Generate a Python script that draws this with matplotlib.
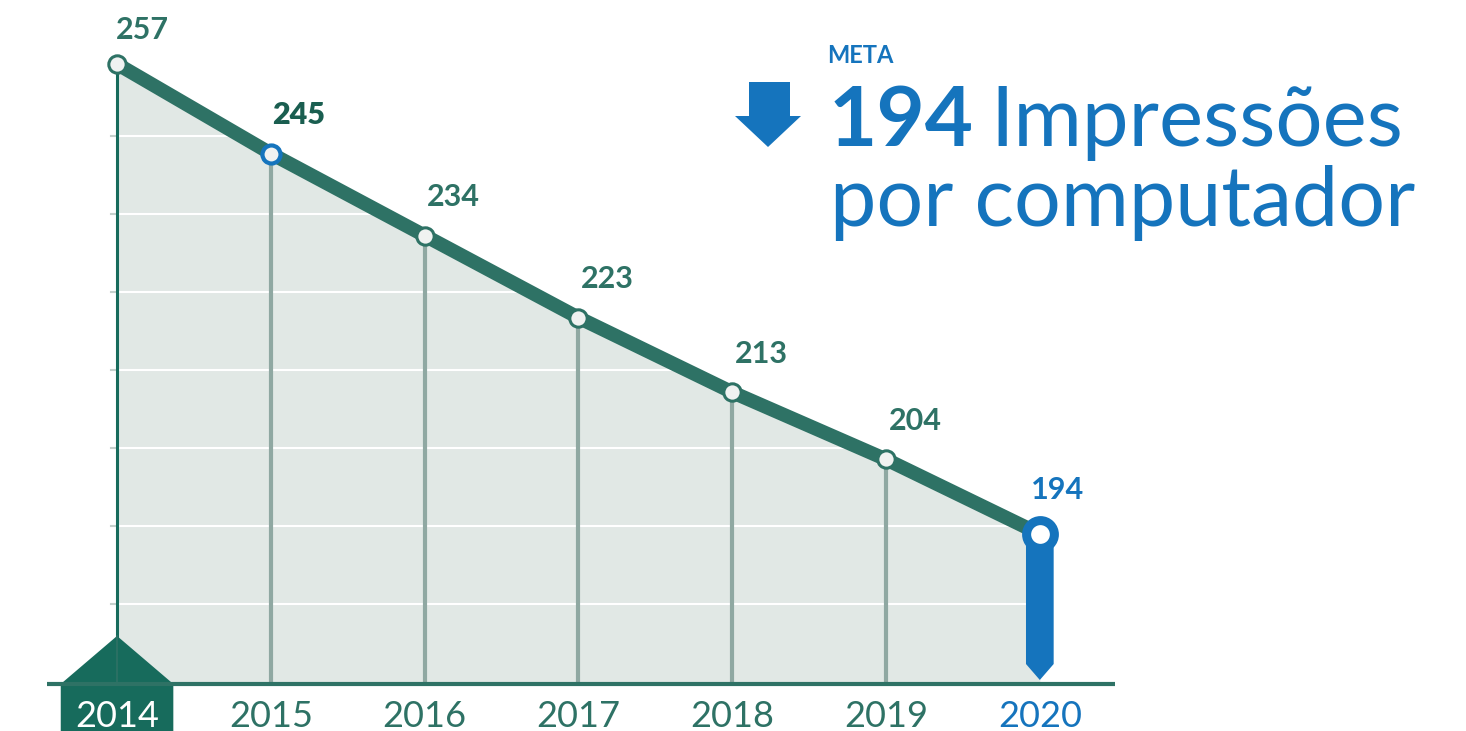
import numpy as np
import matplotlib.pyplot as plt
from matplotlib.patches import Polygon

years = [2014, 2015, 2016, 2017, 2018, 2019, 2020]
values = [257, 245, 234, 223, 213, 204, 194]
year_labels = ['2014', '2015', '2016', '2017', '2018', '2019', '2020']

TEAL = '#2e7265'
DARK_TEAL = '#176b5c'
BLUE = '#1574bd'
FILL = '#e1e8e5'
VGRAY = '#8fa8a2'

plt.rcParams['font.family'] = ['Lato', 'DejaVu Sans']

W, H = 1466, 731
fig = plt.figure(figsize=(W / 100, H / 100), dpi=100)
ax = fig.add_axes([0, 0, 1, 1])
ax.set_xlim(2013.239, 2022.771)
ax.set_ylim(167.59, 265.58)
ax.axis('off')

base = 173.89

# shaded area under the line
ax.fill_between(years, values, base, color=FILL, lw=0, zorder=1)

# white horizontal grid lines clipped to the shaded area
clip = Polygon(list(zip(years, values)) + [(2020, base), (2014, base)],
               closed=True, transform=ax.transData, visible=False)
ax.add_patch(clip)
for g in 184.6 + 10.45 * np.arange(0, 7):
    ln = ax.axhline(g, color='white', lw=1.5, zorder=2)
    ln.set_clip_path(clip)
    ax.plot([2013.96, 2014], [g, g], color='#c5d0cc', lw=1.5, zorder=2)

# vertical drop lines
for x, v in zip(years[1:-1], values[1:-1]):
    ax.plot([x, x], [base, v], color=VGRAY, lw=3, zorder=3, solid_capstyle='butt')
ax.plot([2014, 2014], [base, values[0]], color=DARK_TEAL, lw=2.2, zorder=3)

# baseline
ax.plot([2013.545, 2020.49], [base, base], color=TEAL, lw=3, zorder=6,
        solid_capstyle='butt')

# 2014 house marker
ax.add_patch(Polygon([(2013.634, base), (2014, 180.33), (2014.366, base),
                      (2014.366, 167.0), (2013.634, 167.0)],
                     closed=True, color=DARK_TEAL, lw=0, zorder=5))
ax.plot([2014, 2014], [base, 180.33], color=TEAL, lw=1.2, zorder=5)

# 2020 blue target bar
ax.add_patch(Polygon([(2019.91, values[-1]), (2020.09, values[-1]),
                      (2020.09, 176.57), (2020, 174.43), (2019.91, 176.57)],
                     closed=True, color=BLUE, lw=0, zorder=5))

# main line
ax.plot(years, values, color=TEAL, lw=10, zorder=4, solid_capstyle='butt')

# markers
for i, (x, v) in enumerate(zip(years, values)):
    if i == len(years) - 1:
        ax.plot(x, v, 'o', ms=20, mfc='white', mec=BLUE, mew=6.5, zorder=7)
    elif i == 1:
        ax.plot(x, v, 'o', ms=13, mfc='#f0f2f1', mec=BLUE, mew=3, zorder=7)
    else:
        ax.plot(x, v, 'o', ms=12.5, mfc='#f0f2f1', mec=TEAL, mew=2.2, zorder=7)

# value labels
for i, (x, v) in enumerate(zip(years, values)):
    if i == 0:
        dx, dy, c, fw = 18, 18, TEAL, 'bold'
    elif i == 1:
        dx, dy, c, fw = 20, 21, '#1a5e50', 'heavy'
    elif i == len(years) - 1:
        dx, dy, c, fw = 13, 25, BLUE, 'bold'
    else:
        dx, dy, c, fw = 21, 21, TEAL, 'bold'
    ax.annotate(str(v), (x, v), xytext=(dx, dy), textcoords='offset points',
                ha='center', va='baseline', fontsize=22, color=c, fontweight=fw,
                zorder=8)

# year labels
for i, (x, lab) in enumerate(zip(years, year_labels)):
    c = 'white' if i == 0 else (BLUE if i == len(years) - 1 else TEAL)
    ax.text(x, 168.13, lab, ha='center', va='baseline', fontsize=26,
            color=c, zorder=8)

# headline
fig.text(860 / W, 1 - 63 / H, 'META', color=BLUE, fontsize=17,
         fontweight='bold', ha='center', va='baseline')
fig.text(829 / W, 1 - 146 / H, '194', color=BLUE, fontsize=60,
         fontweight='bold', ha='left', va='baseline')
fig.text(990 / W, 1 - 146 / H, 'Impressões', color=BLUE, fontsize=60,
         fontweight='normal', ha='left', va='baseline')
fig.text(830 / W, 1 - 226 / H, 'por computador', color=BLUE, fontsize=59.5,
         fontweight='normal', ha='left', va='baseline')

# down arrow
arrow = [(749, 82), (790, 82), (790, 116), (801, 116), (768, 147),
         (735, 116), (749, 116)]
ax.add_patch(Polygon([(px / W, 1 - py / H) for px, py in arrow], closed=True,
                     transform=ax.transAxes, color=BLUE, lw=0, zorder=8))

plt.savefig('out.png', dpi=100)
